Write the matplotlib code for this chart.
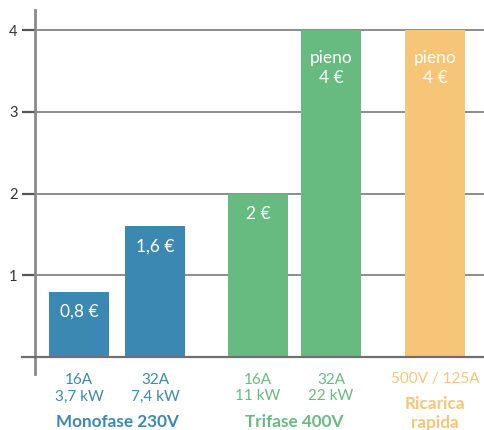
import matplotlib
matplotlib.use('Agg')
import matplotlib.pyplot as plt

# ── Data ─────────────────────────────────────────────────────────────────────
costs = [0.8, 1.6, 2.0, 4.0, 4.0]
value_labels = ["0,8 €", "1,6 €", "2 €", "pieno\n4 €", "pieno\n4 €"]
tick_labels = ["16A\n3,7 kW", "32A\n7,4 kW", "16A\n11 kW", "32A\n22 kW", "500V / 125A"]
groups = ["Monofase 230V", "Trifase 400V", "Ricarica\nrapida"]
group_members = [[0, 1], [2, 3], [4]]

BLUE = "#3B89B2"
GREEN = "#68BB80"
ORANGE = "#F7C577"
bar_colors = [BLUE, BLUE, GREEN, GREEN, ORANGE]
group_colors = [BLUE, GREEN, ORANGE]

# layout (x in pixel-like units, bar width 60)
xpos = [79, 155, 258, 331, 435]
width = 60

plt.rcParams['font.family'] = ['Lato', 'DejaVu Sans']

fig = plt.figure(figsize=(4.84, 4.30), dpi=100)
ax = fig.add_axes([35 / 484, 1 - 374 / 430, 1 - 35 / 484, (374 - 10) / 430])
ax.set_xlim(35, 484)
ax.set_ylim(-0.208, 4.245)

ax.bar(xpos, costs, width=width, color=bar_colors, zorder=3)

# value labels inside bars
for x, v, lab in zip(xpos, costs, value_labels):
    off = 0.465 if "\n" in lab else 0.25
    ax.text(x, v - off, lab, ha="center", va="center", color="white",
            fontsize=12.5, linespacing=1.25, zorder=4)

# grid + axes
ax.set_yticks([1, 2, 3, 4])
ax.set_yticklabels(["1", "2", "3", "4"])
ax.yaxis.grid(True, color="#6f6f6f", lw=1.1, zorder=0)
ax.set_axisbelow(True)
ax.tick_params(axis="y", direction="out", length=9.5, width=1.6, color="#555555",
               labelsize=10.5, labelcolor="#333333", pad=3)
ax.set_xticks([])
for s in ["top", "right", "bottom"]:
    ax.spines[s].set_visible(False)
ax.spines["left"].set_color("#8a8a8a")
ax.spines["left"].set_linewidth(2)
ax.plot([22, 484], [0, 0], color="#6f6f6f", lw=1.6, clip_on=False, zorder=5)

# category labels below the axis
for x, lab, c in zip(xpos, tick_labels, bar_colors):
    ly = -0.38 if "\n" in lab else -0.27
    ax.text(x, ly, lab, ha="center", va="center", color=c, fontsize=11,
            linespacing=1.25, clip_on=False)

group_y = [-0.795, -0.795, -0.69]
for members, g, c, gy in zip(group_members, groups, group_colors, group_y):
    gx = sum(xpos[i] for i in members) / len(members)
    ax.text(gx, gy, g, ha="center", va="center",
            color=c, fontsize=12.3, fontweight="bold", linespacing=1.2, clip_on=False)

fig.savefig("out.png", dpi=100)
